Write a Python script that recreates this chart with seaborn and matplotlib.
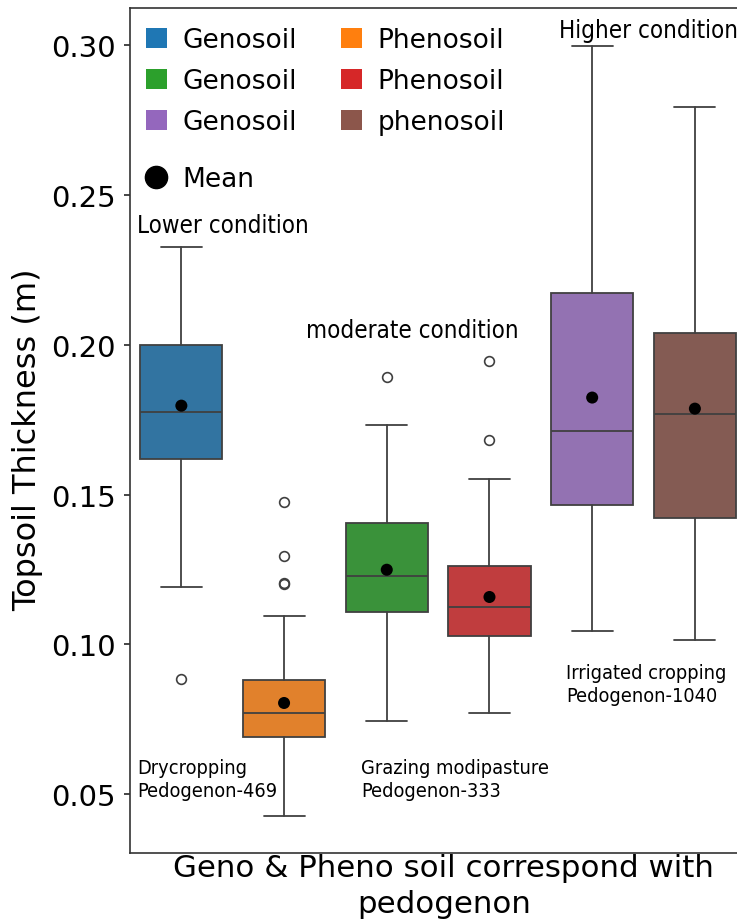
import numpy as np
import matplotlib
matplotlib.use("Agg")
import matplotlib.pyplot as plt
import seaborn as sns
from matplotlib.patches import Patch
from matplotlib.lines import Line2D

# ---------------- data ----------------
box_labels = ["Genosoil", "Phenosoil", "Genosoil", "Phenosoil", "Genosoil", "phenosoil"]
q1 = [0.1620, 0.0691, 0.1108, 0.1028, 0.1466, 0.1422]
median = [0.1777, 0.0771, 0.1229, 0.1125, 0.1713, 0.1770]
q3 = [0.2000, 0.0881, 0.1406, 0.1262, 0.2174, 0.2041]
whisker_low = [0.1192, 0.0426, 0.0744, 0.0771, 0.1045, 0.1015]
whisker_high = [0.2328, 0.1095, 0.1733, 0.1553, 0.2998, 0.2796]
means = [0.1797, 0.0804, 0.1249, 0.1158, 0.1824, 0.1787]
outliers = [[0.0884], [0.1476, 0.1295, 0.1205, 0.1200], [0.1894], [0.1947, 0.1683], [], []]

yticks = [0.05, 0.10, 0.15, 0.20, 0.25, 0.30]
ytick_labels = ["0.05", "0.10", "0.15", "0.20", "0.25", "0.30"]

conditions = ["Lower condition", "moderate condition", "Higher condition"]
landuse = ["Drycropping\nPedogenon-469", "Grazing modipasture\nPedogenon-333",
           "Irrigated cropping\nPedogenon-1040"]

# ---------------- style ----------------
sns.set_theme(style="ticks")
plt.rcParams["font.family"] = ["DejaVu Sans"]
plt.rcParams["text.color"] = "black"
plt.rcParams["axes.labelcolor"] = "black"
plt.rcParams["ytick.color"] = "black"

box_colors = sns.color_palette("tab10", 6, desat=0.75)
legend_colors = sns.color_palette("tab10", 6)
line_col = "#404040"

fig = plt.figure(figsize=(7.37, 9.2), dpi=100)
ax = fig.add_axes([130 / 737, 66 / 920, 607 / 737, 845 / 920])

positions = np.arange(len(box_labels))
stats = []
for i, lab in enumerate(box_labels):
    stats.append(dict(label=lab, q1=q1[i], med=median[i], q3=q3[i],
                      whislo=whisker_low[i], whishi=whisker_high[i],
                      fliers=outliers[i], mean=means[i]))

bp = ax.bxp(stats, positions=positions, widths=0.8, patch_artist=True,
            showmeans=False,
            boxprops=dict(edgecolor=line_col, linewidth=1.3),
            medianprops=dict(color=line_col, linewidth=1.3),
            whiskerprops=dict(color=line_col, linewidth=1.3),
            capprops=dict(color=line_col, linewidth=1.3),
            flierprops=dict(marker="o", markerfacecolor="none",
                            markeredgecolor=line_col, markersize=7,
                            markeredgewidth=1.2))
for patch, c in zip(bp["boxes"], box_colors):
    patch.set_facecolor(c)

sns.scatterplot(x=positions, y=means, color="black", s=75, edgecolor="none",
                ax=ax, zorder=5, legend=False)

ax.set_xlim(-0.5, 5.41)
ax.set_ylim(0.0303, 0.3125)
ax.set_xticks([])
ax.set_yticks(yticks)
ax.set_yticklabels(ytick_labels)
ax.tick_params(axis="y", labelsize=21, length=4.5, width=1.2, pad=5.5, color=".15")
for s in ["left", "top", "bottom"]:
    ax.spines[s].set_color(".2")
    ax.spines[s].set_linewidth(1.2)
ax.spines["right"].set_visible(False)

ax.set_ylabel("Topsoil Thickness (m)", fontsize=23)
ax.yaxis.set_label_coords(-0.143, 0.49)
ax.set_xlabel("Geno & Pheno soil correspond with\npedogenon", fontsize=22.2, linespacing=1.3)
ax.xaxis.set_label_coords(0.517, 0.0)

# annotations
head_kw = dict(fontsize=17.3, family="DejaVu Sans", fontstretch="condensed",
               ha="left", va="baseline", color="black")
ax.text(-0.433, 0.2377, conditions[0], **head_kw)
ax.text(1.209, 0.2026, conditions[1], **head_kw)
ax.text(3.676, 0.3028, conditions[2], **head_kw)

# va="baseline" of a multi-line text aligns the last line's baseline
lu_kw = dict(fontsize=14.3, family="DejaVu Sans", fontstretch="condensed",
             ha="left", va="baseline", linespacing=1.25, color="black")
ax.text(-0.433, 0.0493, landuse[0], **lu_kw)
ax.text(1.748, 0.0493, landuse[1], **lu_kw)
ax.text(3.744, 0.0811, landuse[2], **lu_kw)

# legends
order = [0, 2, 4, 1, 3, 5]
handles = [Patch(facecolor=legend_colors[i], edgecolor="none") for i in order]
labels = [box_labels[i] for i in order]
leg1 = ax.legend(handles, labels, loc="upper left", bbox_to_anchor=(0.026, 0.977),
                 ncol=2, frameon=False, fontsize=19, handlelength=0.8,
                 handleheight=0.8, handletextpad=0.6, columnspacing=1.65,
                 labelspacing=0.56, borderaxespad=0, borderpad=0)
ax.add_artist(leg1)
mean_handle = Line2D([], [], marker="o", color="black", linestyle="none", markersize=16)
ax.legend([mean_handle], ["Mean"], loc="upper left", bbox_to_anchor=(0.026, 0.813),
          frameon=False, fontsize=19, handlelength=0.8, handletextpad=0.6,
          borderaxespad=0, borderpad=0)

fig.savefig("out.png", dpi=100)
